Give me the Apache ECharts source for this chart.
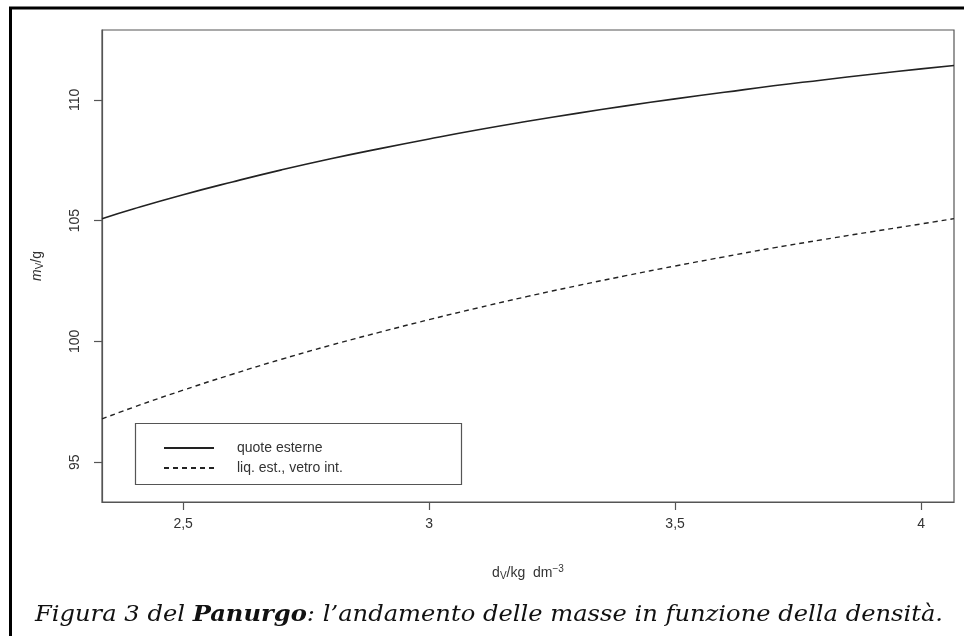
<!DOCTYPE html>
<html>
<head>
<meta charset="utf-8">
<script src="https://cdn.jsdelivr.net/npm/echarts@6/dist/echarts.min.js"></script>
<style>html,body{margin:0;padding:0;background:#fff}#c{width:964px;height:636px}</style>
</head>
<body>
<div id="c"></div>
<script>
// density d_V / kg dm^-3
const density = [2.335, 2.4, 2.5, 2.6, 2.7, 2.8, 2.9, 3.0, 3.1, 3.2, 3.3, 3.4, 3.5, 3.6, 3.7, 3.8, 3.9, 4.0, 4.067];
// m_V / g : "quote esterne"
const quoteEsterne = [105.08, 105.49, 106.07, 106.60, 107.10, 107.56, 107.98, 108.38, 108.76, 109.11, 109.44, 109.75, 110.04, 110.31, 110.58, 110.82, 111.06, 111.28, 111.42];
// m_V / g : "liq. est., vetro int."
const liqEst = [96.79, 97.28, 97.98, 98.64, 99.26, 99.84, 100.38, 100.90, 101.39, 101.86, 102.30, 102.72, 103.12, 103.50, 103.87, 104.21, 104.54, 104.86, 105.08];
const xTicks = [2.5, 3, 3.5, 4];
const yTicks = [95, 100, 105, 110];
const seriesNames = ['quote esterne', 'liq. est., vetro int.'];

const pair = (xs, ys) => xs.map((x, i) => [x, ys[i]]);
const comma = v => String(v).replace('.', ',');

const chart = echarts.init(document.getElementById('c'), null, {renderer: 'canvas'});
const axisCol = '#555';
const txtCol = '#333';
chart.setOption({
  animation: false,
  backgroundColor: '#fff',
  grid: {left: 102, top: 30, right: 10, bottom: 134, show: true, borderColor: axisCol, borderWidth: 1.2, backgroundColor: 'transparent'},
  xAxis: {
    type: 'value', min: 2.335, max: 4.067,
    name: '{n|d}{s|V}{n|/kg  dm}{p|−3}',
    nameLocation: 'middle', nameGap: 62,
    nameTextStyle: {rich: {
      n: {fontFamily: 'Liberation Sans', fontSize: 14, color: txtCol},
      s: {fontFamily: 'Liberation Sans', fontSize: 10, color: txtCol, padding: [6, 0, 0, 0]},
      p: {fontFamily: 'Liberation Sans', fontSize: 10, color: txtCol, padding: [0, 0, 8, 0]}
    }},
    axisLine: {show: true, lineStyle: {color: axisCol, width: 1.2}},
    axisTick: {show: true, length: 8, customValues: xTicks, lineStyle: {color: axisCol, width: 1.2}},
    axisLabel: {customValues: xTicks, formatter: comma, margin: 15, fontFamily: 'Liberation Sans', fontSize: 14, color: txtCol},
    splitLine: {show: false}
  },
  yAxis: {
    type: 'value', min: 93.35, max: 112.89,
    name: '{i|m}{s|V}{n|/g}',
    nameLocation: 'middle', nameGap: 57, nameRotate: 90,
    nameTextStyle: {rich: {
      i: {fontFamily: 'Liberation Sans', fontStyle: 'italic', fontSize: 14, color: txtCol},
      n: {fontFamily: 'Liberation Sans', fontSize: 14, color: txtCol},
      s: {fontFamily: 'Liberation Sans', fontSize: 10, color: txtCol, padding: [6, 0, 0, 0]}
    }},
    axisLine: {show: true, lineStyle: {color: axisCol, width: 1.2}},
    axisTick: {show: true, length: 8, customValues: yTicks, lineStyle: {color: axisCol, width: 1.2}},
    axisLabel: {customValues: yTicks, rotate: 90, margin: 20, fontFamily: 'Liberation Sans', fontSize: 14, color: txtCol},
    splitLine: {show: false}
  },
  legend: {
    orient: 'vertical', left: 158, top: 436, itemWidth: 50, itemHeight: 14, itemGap: 6,
    data: seriesNames,
    itemStyle: {opacity: 0},
    textStyle: {fontFamily: 'Liberation Sans', fontSize: 14, color: txtCol, padding: [0, 0, 0, 18]}
  },
  graphic: [
    {type: 'rect', shape: {x: 135.5, y: 423.5, width: 326, height: 61}, style: {fill: 'none', stroke: axisCol, lineWidth: 1.2}, z: 100},
    {type: 'rect', shape: {x: 10.5, y: 8, width: 1000, height: 700}, style: {fill: 'none', stroke: '#000', lineWidth: 3}, z: 100},
    {type: 'text', x: 35, y: 604, scaleX: 1.1, z: 100, style: {
      text: '{i|Figura 3 del }{b|Panurgo}{i|: l’andamento delle masse in funzione della densità.}',
      rich: {
        i: {fontFamily: 'DejaVu Serif', fontStyle: 'italic', fontSize: 22, fill: '#111'},
        b: {fontFamily: 'DejaVu Serif', fontStyle: 'italic', fontWeight: 'bold', fontSize: 22, fill: '#111'}
      }
    }}
  ],
  series: [
    {name: seriesNames[0], type: 'line', data: pair(density, quoteEsterne), smooth: true, symbol: 'none',
     lineStyle: {color: '#222', width: 1.6, type: 'solid'}, itemStyle: {color: '#222'}},
    {name: seriesNames[1], type: 'line', data: pair(density, liqEst), smooth: true, symbol: 'none',
     lineStyle: {color: '#222', width: 1.4, type: [5, 4]}, itemStyle: {color: '#222'}}
  ]
});
</script>
</body>
</html>
